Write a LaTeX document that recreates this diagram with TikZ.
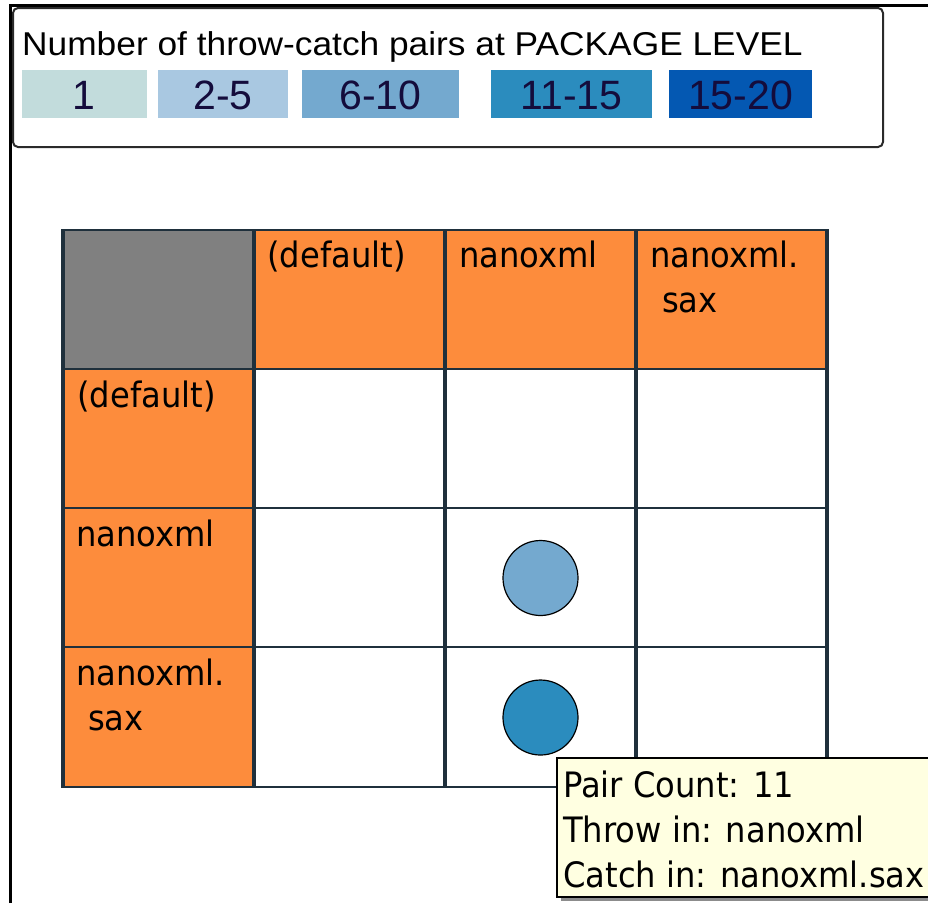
\documentclass[tikz,border=0pt]{standalone}
\usepackage{graphicx}
\usepackage{fontspec}
\setmainfont{Liberation Sans}
\newfontfamily\cellfont[FakeStretch=0.92]{DejaVu Sans}
\definecolor{sw1}{HTML}{C2DCDC}
\definecolor{sw2}{HTML}{A9C8E1}
\definecolor{sw3}{HTML}{74A9CF}
\definecolor{sw4}{HTML}{2B8CBE}
\definecolor{sw5}{HTML}{0458B2}
\definecolor{numtxt}{HTML}{140C3C}
\definecolor{hdr}{HTML}{FD8C3C}
\definecolor{corner}{HTML}{808080}
\definecolor{gridc}{HTML}{1F303C}
\definecolor{tipbg}{HTML}{FFFFE1}
\definecolor{boxc}{HTML}{2A2A2A}
\tikzset{
  swatch/.style={inner sep=0pt, minimum height=48pt, text height=30pt, text depth=0pt,
     text=numtxt, font=\fontsize{41}{41}\selectfont},
  celltext/.style={anchor=base west, inner sep=0pt, font=\cellfont\fontsize{35}{35}\selectfont, text=black},
  vline/.style={gridc, line width=3.5pt},
  hline/.style={gridc, line width=2.5pt},
  dot/.style={circle, draw=black, line width=1.2pt, minimum size=75pt, inner sep=0pt},
}
\begin{document}
\begin{tikzpicture}[x=1pt,y=-1pt]
\useasboundingbox (0,0) rectangle (928,903);
\fill[white] (0,0) rectangle (928,903);
% outer frame
\draw[black, line width=3pt] (10,903) -- (10,5) -- (928,5);
% legend
\draw[boxc, line width=2pt, rounded corners=5pt, fill=white] (13,8) rectangle (883,147);
\node[anchor=base west, inner sep=0pt, font=\fontsize{33}{33}\selectfont] (title) at (22,55)
  {\scalebox{1.07}[1]{Number of throw-catch pairs at PACKAGE LEVEL}};
\node[swatch, fill=sw1, minimum width=125pt] (s1) at (84,94) {1};
\node[swatch, fill=sw2, minimum width=130pt] (s2) at (223,94) {2-5};
\node[swatch, fill=sw3, minimum width=157pt] (s3) at (380.5,94) {6-10};
\node[swatch, fill=sw4, minimum width=161pt] (s4) at (571.5,94) {11-15};
\node[swatch, fill=sw5, minimum width=143pt] (s5) at (740.5,94) {15-20};
% grid fills
\fill[corner] (63,230) rectangle (254,369);
\fill[hdr] (254,230) rectangle (827,369);
\fill[hdr] (63,369) rectangle (254,787);
% grid lines
\foreach \y in {230,369,508,647,787} \draw[hline] (61,\y) -- (829,\y);
\foreach \x in {63,254,445,636,827} \draw[vline] (\x,229) -- (\x,788);
% column headers
\node[celltext] (ch1) at (267,267) {(default)};
\node[celltext] (ch2) at (459,267) {nanoxml};
\node[celltext] (ch3a) at (650,267) {nanoxml.};
\node[celltext] (ch3b) at (662,312) {sax};
% row headers
\node[celltext] (rh1) at (77,407) {(default)};
\node[celltext] (rh2) at (76,546) {nanoxml};
\node[celltext] (rh3a) at (76,685) {nanoxml.};
\node[celltext] (rh3b) at (88,730) {sax};
% dots
\node[dot, fill=sw3] (d1) at (540.5,578) {};
\node[dot, fill=sw4] (d2) at (540.5,717.5) {};
% tooltip
\fill[black!45] (561,762) rectangle (928,901);
\fill[tipbg] (557,758) rectangle (928,897);
\draw[black, line width=1.5pt] (928,758) -- (557,758) -- (557,897) -- (928,897);
\node[celltext] (t1) at (563,797) {Pair Count: 11};
\node[celltext] (t2) at (563,842) {Throw in: nanoxml};
\node[celltext] (t3) at (563,887) {Catch in: nanoxml.sax};
\end{tikzpicture}
\end{document}
